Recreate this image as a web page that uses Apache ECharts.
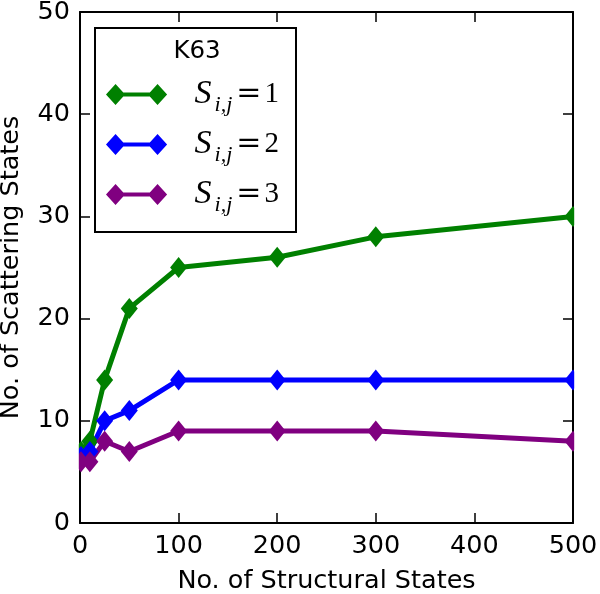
<!DOCTYPE html>
<html>
<head>
<meta charset="utf-8">
<script src="https://cdn.jsdelivr.net/npm/echarts@6/dist/echarts.min.js"></script>
<style>html,body{margin:0;padding:0;background:#fff}#c{width:600px;height:594px}</style>
</head>
<body>
<div id="c"></div>
<script>
const xValues = [1, 10, 25, 50, 100, 200, 300, 500];
const seriesS1 = [7, 8, 14, 21, 25, 26, 28, 30];
const seriesS2 = [6.5, 7, 10, 11, 14, 14, 14, 14];
const seriesS3 = [6, 6, 8, 7, 9, 9, 9, 8];
const seriesNames = ['S1', 'S2', 'S3'];
const legendValues = ['1', '2', '3'];
const legendTitle = 'K63';
const xName = 'No. of Structural States';
const yName = 'No. of Scattering States';
const colors = ['#008000', '#0000ff', '#800080'];

const FONT = 'DejaVu Sans';
const FS = 25.5;
const chart = echarts.init(document.getElementById('c'), null, {renderer: 'canvas'});

function pairs(ys) { return xValues.map((x, i) => [x, ys[i]]); }

const axisCommon = {
  axisLine: {show: true, onZero: false, lineStyle: {color: '#000', width: 2}},
  axisTick: {show: true, inside: true, length: 10, lineStyle: {color: '#000', width: 1.5}},
  splitLine: {show: false},
};

const lineSeries = [seriesS1, seriesS2, seriesS3].map((d, i) => ({
  name: seriesNames[i],
  type: 'line',
  data: pairs(d),
  symbol: 'diamond',
  symbolSize: [17, 21],
  showAllSymbol: true,
  clip: false,
  color: colors[i],
  lineStyle: {width: 5, color: colors[i]},
  itemStyle: {color: colors[i]},
  emphasis: {disabled: true},
  z: 2
}));

const option = {
  animation: false,
  grid: {left: 80, right: 27, top: 12, bottom: 71, containLabel: false, outerBoundsMode: 'none'},
  xAxis: [
    Object.assign({type: 'value', min: 0, max: 500, interval: 100, position: 'bottom',
      name: xName, nameLocation: 'middle', nameGap: 45,
      nameTextStyle: {fontFamily: FONT, fontSize: FS, color: '#000'},
      axisLabel: {fontFamily: FONT, fontSize: FS, color: '#000', margin: 10}}, axisCommon),
    Object.assign({type: 'value', min: 0, max: 500, interval: 100, position: 'top',
      axisLabel: {show: false}}, axisCommon)
  ],
  yAxis: [
    Object.assign({type: 'value', min: 0, max: 50, interval: 10, position: 'left',
      name: yName, nameLocation: 'middle', nameGap: 56, nameRotate: 90,
      nameTextStyle: {fontFamily: FONT, fontSize: FS, color: '#000'},
      axisLabel: {fontFamily: FONT, fontSize: FS, color: '#000', margin: 10}}, axisCommon),
    Object.assign({type: 'value', min: 0, max: 50, interval: 10, position: 'right',
      axisLabel: {show: false}}, axisCommon)
  ],
  legend: {
    orient: 'vertical',
    left: 106,
    top: 73,
    itemGap: 7,
    itemWidth: 64,
    itemHeight: 21,
    padding: 0,
    z: 4,
    icon: 'path://M0,11L10,0L20,11L10,22ZM44,11L54,0L64,11L54,22ZM10,9L54,9L54,13L10,13Z',
    data: seriesNames,
    formatter: function (name) {
      const v = legendValues[seriesNames.indexOf(name)];
      return '{gap|}{s|S}{sub|i,j}{eq|=}{n|' + v + '}';
    },
    textStyle: {
      color: '#000',
      rich: {
        gap: {width: 21},
        s: {fontFamily: 'Liberation Serif', fontStyle: 'italic', fontSize: 34, color: '#000', lineHeight: 34, padding: [0, 2, 0, 0]},
        sub: {fontFamily: 'Liberation Serif', fontStyle: 'italic', fontSize: 22, color: '#000', padding: [21, 4, 0, 1], lineHeight: 22},
        eq: {fontFamily: 'DejaVu Serif', fontSize: 30, color: '#000', lineHeight: 32, padding: [0, 3, 0, 0]},
        n: {fontFamily: 'Liberation Serif', fontSize: 29, color: '#000', lineHeight: 32}
      }
    },
    itemStyle: {borderWidth: 0},
    lineStyle: {width: 0},
    selectedMode: false
  },
  series: lineSeries
};

chart.setOption(option);

// legend box, title, and clipping masks positioned from the chart's own scales
const p00 = chart.convertToPixel({gridIndex: 0}, [0, 0]);
const pTR = chart.convertToPixel({gridIndex: 0}, [500, 50]);
const pA = chart.convertToPixel({gridIndex: 0}, [0, 8.8]);
const pB = chart.convertToPixel({gridIndex: 0}, [0, 1.5]);

chart.setOption({
  graphic: [
    {type: 'rect', z: 3, shape: {x: 95, y: 28, width: 201, height: 204},
      style: {fill: '#fff', stroke: '#000', lineWidth: 2}},
    {type: 'text', z: 4, x: 197, y: 52,
      style: {text: legendTitle, fontFamily: FONT, fontSize: 24.5, fill: '#000', textAlign: 'center', textVerticalAlign: 'middle'}},
    {type: 'rect', z: 3, silent: true, shape: {x: pTR[0] + 1.2, y: 0, width: 600 - pTR[0], height: p00[1] - 1},
      style: {fill: '#fff'}},
    {type: 'rect', z: 3, silent: true, shape: {x: 0, y: pA[1], width: p00[0] - 1.2, height: pB[1] - pA[1]},
      style: {fill: '#fff'}}
  ]
});
</script>
</body>
</html>
